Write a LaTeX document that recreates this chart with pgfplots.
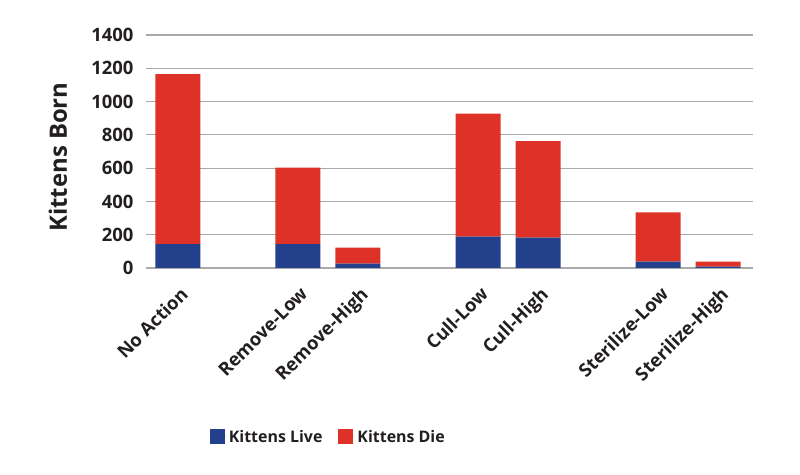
\documentclass[border=0pt]{standalone}
\usepackage{pgfplots}
\pgfplotsset{compat=1.18}
\usepackage{fontspec}
\setmainfont{Open Sans}
\definecolor{live}{HTML}{23408C}
\definecolor{die}{HTML}{DE3228}
\definecolor{gridc}{HTML}{AAAAAA}
\definecolor{txt}{HTML}{231F20}

\begin{document}
\begin{tikzpicture}
\path (0,0) rectangle (800bp,475bp);
\begin{axis}[
  at={(146bp,207bp)}, anchor=south west,
  scale only axis, width=607bp, height=233bp,
  ybar stacked, bar width=45bp,
  xmin=-0.53, xmax=9.58, ymin=0, ymax=1400,
  ytick={0,200,...,1400},
  xtick={0,2,3,5,6,8,9},
  xticklabels={No Action,Remove-Low,Remove-High,Cull-Low,Cull-High,Sterilize-Low,Sterilize-High},
  axis line style={draw=none},
  major tick length=0pt,
  ymajorgrids, grid style={gridc, line width=1.2bp},
  /pgf/number format/assume math mode=true,
  /pgf/number format/1000 sep={},
  yticklabel style={font=\fontsize{18.5}{22}\selectfont\bfseries, text=txt, xshift=-9bp},
  xticklabel style={font=\fontsize{18.5}{22}\selectfont\bfseries, text=txt, rotate=45, anchor=north east, yshift=-10bp, xshift=-8bp},
  ylabel={\bfseries Kittens Born},
  ylabel style={font=\fontsize{24}{28}\selectfont, text=txt, anchor=center, at={(axis description cs:-0.145,0.476)}},
  legend columns=2,
  legend style={at={(axis description cs:0.1,-0.725)}, anchor=west, draw=none,
    font=\fontsize{16}{20}\selectfont\bfseries, text=txt,
    /tikz/every even column/.append style={column sep=14bp}},
  legend image code/.code={\fill[#1] (0bp,-7.5bp) rectangle (15bp,7.5bp); \path (0bp,0bp) -- (17bp,0bp);},
]
\addplot[fill=live, draw=none] coordinates {(0,144) (2,144) (3,26) (5,188) (6,182) (8,38) (9,9)};
\addplot[fill=die, draw=none] coordinates {(0,1021) (2,459) (3,96) (5,739) (6,581) (8,296) (9,29)};
\legend{Kittens Live, Kittens Die}
\end{axis}
\end{tikzpicture}
\end{document}
